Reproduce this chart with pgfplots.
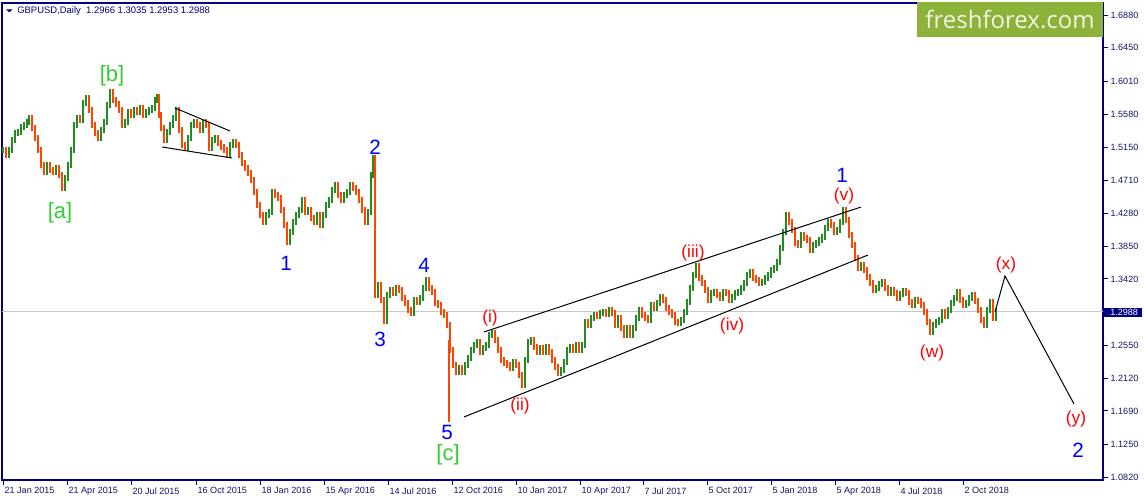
\documentclass[border=0pt]{standalone}
\usepackage{fontspec}
\setmainfont{Liberation Sans}
\newfontfamily\logofont{Open Sans}
\usepackage{pgfplots}
\usepackage{pgfplotstable}
\pgfplotsset{compat=1.18}
\definecolor{navy}{RGB}{0,0,128}
\definecolor{txt}{RGB}{20,20,100}
\definecolor{upc}{RGB}{34,139,34}
\definecolor{dnc}{RGB}{255,69,0}
\definecolor{lgreen}{RGB}{50,205,50}
\definecolor{logogreen}{RGB}{141,178,58}
\definecolor{logotext}{RGB}{242,246,228}
\definecolor{pline}{RGB}{200,200,200}

\pgfplotstableread{
x c
3 1.5111
6 1.5045
9 1.5111
12 1.5242
15 1.5333
18 1.5347
21 1.5412
24 1.5438
27 1.5478
29 1.5530
32 1.5399
35 1.5268
38 1.5111
41 1.4914
44 1.4822
47 1.4914
50 1.4849
53 1.4822
56 1.4875
59 1.4783
62 1.4613
65 1.4744
68 1.4914
71 1.5111
74 1.5438
77 1.5530
80 1.5504
83 1.5727
86 1.5792
89 1.5635
92 1.5438
95 1.5333
98 1.5268
101 1.5373
104 1.5478
107 1.5701
110 1.5871
113 1.5766
116 1.5714
119 1.5635
122 1.5438
125 1.5478
128 1.5609
131 1.5570
134 1.5635
137 1.5609
140 1.5661
143 1.5570
146 1.5609
149 1.5635
152 1.5661
155 1.5766
157 1.5805
159 1.5570
161 1.5399
164 1.5242
167 1.5347
170 1.5438
173 1.5530
176 1.5635
179 1.5373
182 1.5176
185 1.5137
188 1.5268
191 1.5438
194 1.5478
197 1.5438
200 1.5373
203 1.5478
206 1.5438
209 1.5137
212 1.5242
215 1.5268
218 1.5202
221 1.5150
224 1.5111
227 1.5045
230 1.5176
233 1.5215
236 1.5176
239 1.5045
242 1.4940
245 1.4875
248 1.4809
251 1.4717
254 1.4560
257 1.4390
260 1.4259
263 1.4167
266 1.4259
269 1.4298
272 1.4560
275 1.4521
278 1.4481
281 1.4324
284 1.4128
287 1.3905
290 1.4036
293 1.4167
296 1.4259
299 1.4324
302 1.4455
305 1.4298
308 1.4324
311 1.4219
314 1.4167
317 1.4259
320 1.4128
323 1.4259
326 1.4390
329 1.4455
332 1.4586
335 1.4652
338 1.4521
341 1.4455
344 1.4521
347 1.4560
350 1.4652
353 1.4613
356 1.4560
359 1.4455
362 1.4324
365 1.4167
368 1.4298
371 1.4783
373 1.5006
375 1.3210
378 1.3341
381 1.3144
384 1.2880
387 1.3210
390 1.3275
393 1.3236
396 1.3302
399 1.3275
402 1.3171
405 1.3105
408 1.3013
411 1.2974
414 1.3144
417 1.3118
420 1.3171
423 1.3302
426 1.3407
429 1.3302
432 1.3249
435 1.3105
438 1.3079
441 1.2987
444 1.2948
447 1.2817
450 1.2489
453 1.2292
456 1.2200
459 1.2253
462 1.2200
465 1.2292
468 1.2384
471 1.2489
474 1.2554
477 1.2594
480 1.2463
483 1.2515
486 1.2554
489 1.2686
492 1.2712
495 1.2620
498 1.2489
501 1.2358
504 1.2318
507 1.2292
510 1.2253
513 1.2332
516 1.2292
519 1.2161
522 1.2030
525 1.2358
528 1.2594
531 1.2620
534 1.2528
537 1.2463
540 1.2515
543 1.2463
546 1.2528
549 1.2463
552 1.2358
555 1.2266
558 1.2187
561 1.2227
564 1.2332
567 1.2489
570 1.2528
573 1.2489
576 1.2554
579 1.2489
582 1.2554
585 1.2856
588 1.2817
591 1.2908
594 1.2948
597 1.2935
600 1.2974
603 1.2987
606 1.2961
609 1.3013
612 1.2974
615 1.2817
618 1.2908
621 1.2777
624 1.2686
627 1.2777
630 1.2686
633 1.2777
636 1.2908
639 1.3013
642 1.2948
645 1.2908
648 1.2882
651 1.3079
654 1.3039
657 1.3105
660 1.3184
663 1.3144
666 1.3039
669 1.2987
672 1.2948
675 1.2856
678 1.2843
681 1.2882
684 1.2987
687 1.3118
690 1.3302
693 1.3472
696 1.3590
699 1.3433
702 1.3367
705 1.3275
708 1.3144
711 1.3236
714 1.3249
717 1.3210
720 1.3171
723 1.3249
726 1.3236
729 1.3144
732 1.3184
735 1.3236
738 1.3249
741 1.3302
744 1.3367
747 1.3472
750 1.3511
753 1.3433
756 1.3407
759 1.3367
762 1.3380
765 1.3433
768 1.3472
771 1.3538
774 1.3564
777 1.3642
780 1.3826
783 1.4036
786 1.4259
789 1.4167
792 1.4062
795 1.3892
798 1.3865
801 1.3996
804 1.3957
807 1.3931
810 1.3800
813 1.3865
816 1.3892
819 1.3931
822 1.3970
825 1.4088
828 1.4167
831 1.4128
834 1.4036
837 1.4062
840 1.4167
843 1.4325
846 1.4193
849 1.3996
852 1.3865
855 1.3695
858 1.3564
861 1.3603
864 1.3538
867 1.3446
870 1.3367
873 1.3275
876 1.3302
879 1.3354
882 1.3380
885 1.3302
888 1.3236
891 1.3275
894 1.3236
897 1.3171
900 1.3223
903 1.3262
906 1.3236
909 1.3118
912 1.3079
915 1.3144
918 1.3131
921 1.3079
924 1.2987
927 1.2856
930 1.2725
933 1.2817
936 1.2856
939 1.2882
942 1.2987
945 1.2935
948 1.3013
951 1.3105
954 1.3171
957 1.3249
960 1.3144
963 1.3079
966 1.3105
969 1.3171
972 1.3210
975 1.3131
978 1.3013
981 1.2882
984 1.2817
987 1.3013
990 1.3118
993 1.2908
996 1.2988
}\bars
\pgfplotstablecreatecol[create col/assign/.code={%
  \getprevrow{c}\pv
  \edef\tmpv{\pv}%
  \ifx\tmpv\empty\getthisrow{c}\pv\fi
  \pgfkeyslet{/pgfplots/table/create col/next content}\pv}]{o}\bars

\begin{document}
\begin{tikzpicture}
\useasboundingbox (-1.5pt,-15.75pt) rectangle (856.5pt,360pt);
\begin{axis}[
  at={(0,0)}, anchor=south west, scale only axis,
  width=825.75pt, height=357.75pt,
  xmin=2, xmax=1103, ymin=1.07847, ymax=1.70377,
  axis line style={draw=navy, line width=0.9pt},
  tick style={draw=navy, line width=0.75pt},
  tick align=outside, major tick length=3.5pt,
  xtick pos=bottom, ytick pos=right, yticklabel pos=right,
  xtick={3,67,131,196,260,324,388,452,516,580,643,707,771,835,899,963},
  xticklabels={21 Jan 2015,21 Apr 2015,20 Jul 2015,16 Oct 2015,18 Jan 2016,15 Apr 2016,14 Jul 2016,12 Oct 2016,10 Jan 2017,10 Apr 2017,7 Jul 2017,5 Oct 2017,5 Jan 2018,5 Apr 2018,4 Jul 2018,2 Oct 2018},
  x tick label style={anchor=north west, inner sep=0pt, xshift=1pt, yshift=-2pt, font=\fontsize{6.8}{8}\selectfont, text=txt},
  ytick={1.0820,1.1250,1.1690,1.2120,1.2550,1.3420,1.3850,1.4280,1.4710,1.5150,1.5580,1.6010,1.6450,1.6880},
  yticklabel={\pgfmathprintnumber[fixed,fixed zerofill,precision=4]{\tick}},
  y tick label style={anchor=west, inner sep=0pt, xshift=2pt, font=\fontsize{6.8}{8}\selectfont, text=txt},
  /pgf/number format/assume math mode=true,
  clip=true,
]
\addplot[draw=pline, line width=0.75pt] coordinates {(2,1.2988) (1103,1.2988)};
\addplot[draw=none, mark=none,
  x filter/.expression={\thisrow{c}<\thisrow{o} ? x : nan},
  error bars/.cd, y dir=both, y explicit, error mark=none,
  error bar style={draw=dnc, line width=1.9pt}]
  table[x=x, y expr={(\thisrow{o}+\thisrow{c})/2}, y error expr={abs(\thisrow{c}-\thisrow{o})/2+0.0045}] {\bars};
\addplot[draw=none, mark=none,
  x filter/.expression={\thisrow{c}<\thisrow{o} ? nan : x},
  error bars/.cd, y dir=both, y explicit, error mark=none,
  error bar style={draw=upc, line width=1.9pt}]
  table[x=x, y expr={(\thisrow{o}+\thisrow{c})/2}, y error expr={abs(\thisrow{c}-\thisrow{o})/2+0.0045}] {\bars};
\addplot[draw=dnc, line width=1.1pt] coordinates {(449,1.2620) (449,1.1545)};
\addplot[black, line width=0.75pt] coordinates {(175,1.5661) (230,1.5360)};
\addplot[black, line width=0.75pt] coordinates {(162,1.5150) (232,1.5006)};
\addplot[black, line width=0.75pt] coordinates {(484,1.2725) (861,1.4363)};
\addplot[black, line width=0.75pt] coordinates {(464,1.1611) (868,1.3734)};
\addplot[black, line width=0.75pt] coordinates {(995,1.2987) (1005,1.3459) (1074,1.1781)};
\end{axis}
\begin{scope}[shift={(-1.5pt,360pt)}, x=0.75pt, y=-0.75pt]
\fill[logogreen] (917,2) rectangle (1103,37);
\node[text=logotext, font=\logofont\fontsize{18}{20}\selectfont] at (1010,19) {freshforex.com};
\fill[navy] (6,9.3) -- (12.7,9.3) -- (9.35,12.3) -- cycle;
\node[anchor=west, inner sep=0pt, text=navy, font=\fontsize{7.1}{8}\selectfont] at (17,10.7) {GBPUSD,Daily\ \ 1.2966 1.3035 1.2953 1.2988};
\fill[navy] (1104,308) rectangle (1141.7,316.7);
\node[anchor=west, inner sep=0pt, text=white, font=\fontsize{6.8}{8}\selectfont] at (1110,312.4) {1.2988};
\begin{scope}[every node/.style={font=\fontsize{16.5}{18}\selectfont, text=lgreen, inner sep=0pt}]
\node at (112,76) {[b]};
\node at (60,213) {[a]};
\node at (448,455) {[c]};
\end{scope}
\begin{scope}[every node/.style={font=\fontsize{15.5}{18}\selectfont, text=blue, inner sep=0pt}]
\node at (286,263) {1};
\node at (375,147) {2};
\node at (380,339) {3};
\node at (424,265) {4};
\node at (447,432) {5};
\node at (842,175) {1};
\node at (1078,450) {2};
\end{scope}
\begin{scope}[every node/.style={font=\fontsize{13}{15}\selectfont, text=red, inner sep=0pt}]
\node at (490,318) {(i)};
\node at (520,406) {(ii)};
\node at (693,253) {(iii)};
\node at (732,326) {(iv)};
\node at (844,196) {(v)};
\node at (932,353) {(w)};
\node at (1006,265) {(x)};
\node at (1076,419) {(y)};
\end{scope}
\end{scope}
\end{tikzpicture}
\end{document}
